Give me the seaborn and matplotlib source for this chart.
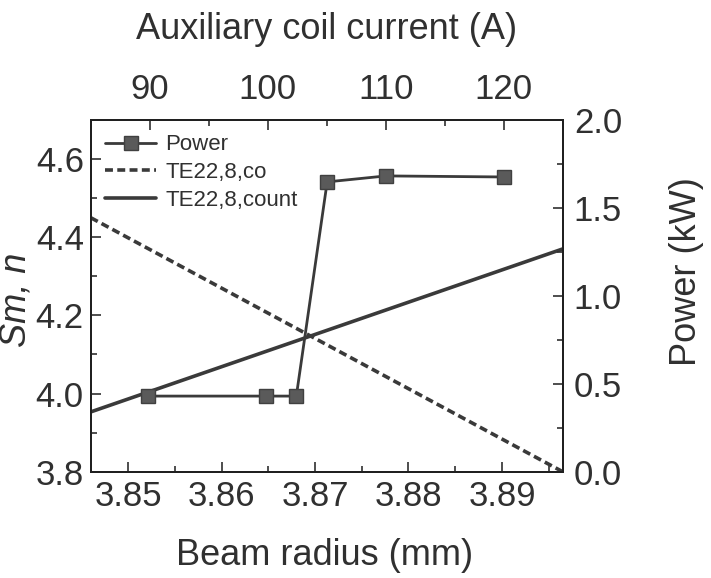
import numpy as np
import pandas as pd
import matplotlib
matplotlib.use('Agg')
import matplotlib.pyplot as plt
import seaborn as sns
from matplotlib.ticker import MultipleLocator, FixedLocator

# ---- data ----
beam_radius_power = [3.8521, 3.8648, 3.8680, 3.8713, 3.8776, 3.8902]
power_kw = [0.43, 0.43, 0.43, 1.648, 1.682, 1.676]

beam_radius_line = [3.8460, 3.8965]
te_co = [4.45, 3.80]
te_count = [3.953, 4.370]

bottom_ticks = [3.85, 3.86, 3.87, 3.88, 3.89]
top_ticks = [90, 100, 110, 120]
left_ticks = [3.8, 4.0, 4.2, 4.4, 4.6]
right_ticks = [0.0, 0.5, 1.0, 1.5, 2.0]

sns.set_style('ticks')
plt.rcParams['font.family'] = ['Liberation Sans', 'DejaVu Sans']
TXT = '#303030'
LC = '#3a3a3a'

fig = plt.figure(figsize=(7.11, 5.78), dpi=100)
ax = fig.add_axes([0.1276, 0.1839, 0.6638, 0.6085])

df_co = pd.DataFrame({'x': beam_radius_line, 'y': te_co})
df_cnt = pd.DataFrame({'x': beam_radius_line, 'y': te_count})
sns.lineplot(data=df_co, x='x', y='y', ax=ax, color=LC, lw=2.6,
             linestyle=(0, (2.2, 1.2)), label='TE22,8,co', legend=False)
sns.lineplot(data=df_cnt, x='x', y='y', ax=ax, color=LC, lw=2.6,
             label='TE22,8,count', legend=False)
ax.set_xlim(3.8460, 3.8965)
ax.set_ylim(3.8, 4.7)
ax.xaxis.set_major_locator(FixedLocator(bottom_ticks))
ax.xaxis.set_minor_locator(MultipleLocator(0.005))
ax.yaxis.set_major_locator(FixedLocator(left_ticks))
ax.yaxis.set_minor_locator(MultipleLocator(0.1))
ax.set_xticklabels([f'{v:.2f}' for v in bottom_ticks])
ax.set_yticklabels([f'{v:.1f}' for v in left_ticks])
ax.tick_params(axis='both', which='both', direction='in', colors=TXT,
               labelsize=25, top=False, right=False)
ax.tick_params(which='major', length=7, width=1.2)
ax.tick_params(which='minor', length=4, width=1.2)
ax.tick_params(axis='x', pad=6)
ax.tick_params(axis='y', pad=5)
ax.set_xlabel('Beam radius (mm)', fontsize=26, color=TXT)
ax.set_ylabel('Sm, n', fontsize=26, color=TXT, fontstyle='italic')
ax.xaxis.set_label_coords(0.496, -0.237)
ax.xaxis.label.set_va('center')
ax.yaxis.set_label_coords(-0.158, 0.49)
ax.yaxis.label.set_va('center')

ax2 = ax.twinx()
df_p = pd.DataFrame({'x': beam_radius_power, 'y': power_kw})
sns.lineplot(data=df_p, x='x', y='y', ax=ax2, color=LC, lw=2.0,
             marker='s', markersize=9.5, markerfacecolor='#5a5a5a',
             markeredgecolor='#404040', markeredgewidth=1.0,
             label='Power', legend=False)
ax2.set_ylim(0, 2.0)
ax2.yaxis.set_major_locator(FixedLocator(right_ticks))
ax2.yaxis.set_minor_locator(MultipleLocator(0.25))
ax2.set_yticklabels([f'{v:.1f}' for v in right_ticks])
ax2.tick_params(axis='y', which='both', direction='in', colors=TXT,
                labelsize=25, left=False, right=True, pad=8)
ax2.tick_params(axis='y', which='major', length=7, width=1.2)
ax2.tick_params(axis='y', which='minor', length=4, width=1.2)
ax2.set_ylabel('Power (kW)', fontsize=26, color=TXT)
ax2.yaxis.set_label_coords(1.263, 0.568)
ax2.yaxis.label.set_va('center')
ax2.set_xlabel('')

ax3 = ax.twiny()
ax3.set_xlim(85, 125)
ax3.xaxis.set_major_locator(FixedLocator(top_ticks))
ax3.xaxis.set_minor_locator(MultipleLocator(5))
ax3.set_xticklabels([str(v) for v in top_ticks])
ax3.tick_params(axis='x', which='both', direction='in', colors=TXT,
                labelsize=25, bottom=False, top=True, pad=10)
ax3.tick_params(axis='x', which='major', length=7, width=1.2)
ax3.tick_params(axis='x', which='minor', length=4, width=1.2)
ax3.set_xlabel('Auxiliary coil current (A)', fontsize=26, color=TXT)
ax3.xaxis.set_label_coords(0.5, 1.256)
ax3.xaxis.label.set_va('center')

for a in (ax, ax2, ax3):
    for s in a.spines.values():
        s.set_linewidth(1.4)
        s.set_color('#202020')

handles = ax2.get_lines()[:1] + ax.get_lines()[:2]
labels = ['Power', 'TE22,8,co', 'TE22,8,count']
ax3.legend(handles, labels, loc='upper left', bbox_to_anchor=(0.0, 1.0),
           frameon=False, fontsize=16, handlelength=2.3, handletextpad=0.4,
           labelspacing=0.3, borderaxespad=0.3, borderpad=0.35,
           labelcolor=TXT)

fig.savefig('out.png', dpi=100)
